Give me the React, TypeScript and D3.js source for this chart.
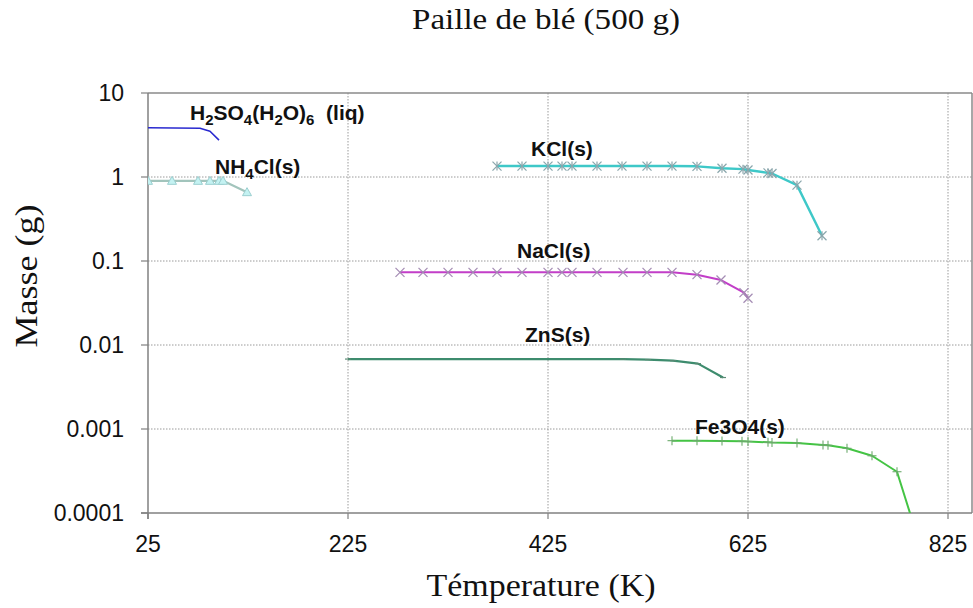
import React from "react";
import * as d3 from "d3";

// ---- data ----
const xTicks = [25, 225, 425, 625, 825];
const yTicks = [0.0001, 0.001, 0.01, 0.1, 1, 10];
const yTickLabels = ["0.0001", "0.001", "0.01", "0.1", "1", "10"];

const h2so4T = [25, 77, 87, 96];
const h2so4V = [3.85, 3.8, 3.5, 2.75];

const nh4clT = [25, 49, 75, 87, 96, 100, 124];
const nh4clV = [0.9, 0.9, 0.9, 0.9, 0.9, 0.9, 0.66];

const kclT = [374, 399, 425, 439, 449, 474, 499, 524, 549, 574, 599, 620, 625, 645, 649, 674, 699];
const kclV = [1.35, 1.35, 1.35, 1.35, 1.35, 1.35, 1.35, 1.35, 1.35, 1.34, 1.27, 1.24, 1.21, 1.12, 1.1, 0.8, 0.2];

const naclT = [277, 300, 325, 350, 374, 399, 425, 439, 449, 474, 500, 524, 549, 574, 598, 621, 625];
const naclV = [0.0733, 0.0733, 0.0733, 0.0733, 0.0733, 0.0733, 0.0733, 0.0733, 0.0733, 0.0733, 0.0733, 0.0733, 0.0733, 0.0687, 0.0594, 0.042, 0.036];

const znsT = [225, 500, 525, 550, 575, 600];
const znsV = [0.0068, 0.0068, 0.0067, 0.0065, 0.006, 0.0041];

const fe3o4T = [549, 574, 599, 619, 625, 645, 649, 674, 700, 705, 724, 749, 774, 799];
const fe3o4V = [0.000726, 0.000726, 0.00072, 0.000715, 0.00071, 0.000694, 0.00069, 0.000682, 0.000645, 0.00064, 0.000589, 0.00048, 0.00031, 0.000035];

const W = 973;
const H = 608;
const M = { left: 148, right: 972, top: 93, bottom: 513 };

type Marker = "none" | "dash" | "tri" | "star" | "x" | "plus";

interface Series {
  name: string;
  T: number[];
  V: number[];
  color: string;
  width: number;
  marker: Marker;
  mStroke: string;
  mFill?: string;
}

const series: Series[] = [
  { name: "h2so4", T: h2so4T, V: h2so4V, color: "#2a2ad0", width: 1.6, marker: "none", mStroke: "#2a2ad0" },
  { name: "nh4cl", T: nh4clT, V: nh4clV, color: "#a2c4bc", width: 2.2, marker: "tri", mStroke: "#9ccfd0", mFill: "#c4f2f2" },
  { name: "kcl", T: kclT, V: kclV, color: "#3ec8c8", width: 2.4, marker: "star", mStroke: "#8aa6ac" },
  { name: "nacl", T: naclT, V: naclV, color: "#c23ec8", width: 2.0, marker: "x", mStroke: "#a48cb4" },
  { name: "zns", T: znsT, V: znsV, color: "#3e8c6e", width: 2.2, marker: "dash", mStroke: "#5a8a74" },
  { name: "fe3o4", T: fe3o4T, V: fe3o4V, color: "#44c444", width: 2.0, marker: "plus", mStroke: "#6caa6c" },
];

function MarkerShape({ m, x, y, stroke, fill }: { m: Marker; x: number; y: number; stroke: string; fill?: string }) {
  const s = 4.5;
  if (m === "tri") {
    return <path d={`M${x},${y - 4.5}L${x + 4.5},${y + 3.5}L${x - 4.5},${y + 3.5}Z`} fill={fill} stroke={stroke} strokeWidth={1} />;
  }
  if (m === "star") {
    return (
      <g stroke={stroke} strokeWidth={1.2}>
        <line x1={x - s} y1={y - s} x2={x + s} y2={y + s} />
        <line x1={x - s} y1={y + s} x2={x + s} y2={y - s} />
        <line x1={x} y1={y - s} x2={x} y2={y + s} />
      </g>
    );
  }
  if (m === "x") {
    return (
      <g stroke={stroke} strokeWidth={1.2}>
        <line x1={x - s} y1={y - s} x2={x + s} y2={y + s} />
        <line x1={x - s} y1={y + s} x2={x + s} y2={y - s} />
      </g>
    );
  }
  if (m === "plus") {
    return (
      <g stroke={stroke} strokeWidth={1.1}>
        <line x1={x - s} y1={y} x2={x + s} y2={y} />
        <line x1={x} y1={y - s} x2={x} y2={y + s} />
      </g>
    );
  }
  if (m === "dash") {
    return <line x1={x - 3} y1={y} x2={x + 3} y2={y} stroke={stroke} strokeWidth={1.2} />;
  }
  return null;
}

export default function App() {
  const x = d3.scaleLinear().domain([25, 849]).range([M.left, M.right]);
  const y = d3.scaleLog().domain([0.0001, 10]).range([M.bottom, M.top]);
  const line = d3
    .line<[number, number]>()
    .x((d) => x(d[0]))
    .y((d) => y(d[1]));

  const sans = "'Liberation Sans', Arial, sans-serif";
  const serif = "'Liberation Serif', 'Times New Roman', serif";
  const labelStyle = { fontFamily: sans, fontWeight: 700 as const, fontSize: 21, fill: "#111" };

  return (
    <svg width={W} height={H} style={{ display: "block", position: "absolute", left: 0, top: 0 }}>
      <rect x={0} y={0} width={W} height={H} fill="#fff" />
      <defs>
        <clipPath id="plot">
          <rect x={M.left} y={M.top} width={M.right - M.left} height={M.bottom - M.top} />
        </clipPath>
      </defs>

      {/* grid */}
      {xTicks.slice(1).map((t) => (
        <line key={"gx" + t} x1={x(t)} x2={x(t)} y1={M.top} y2={M.bottom} stroke="#9a9a9a" strokeWidth={1} strokeDasharray="1.5,1.5" />
      ))}
      {yTicks.slice(1, -1).map((t) => (
        <line key={"gy" + t} x1={M.left} x2={M.right} y1={y(t)} y2={y(t)} stroke="#9a9a9a" strokeWidth={1} strokeDasharray="1.5,1.5" />
      ))}

      {/* frame */}
      <line x1={M.left} x2={M.right} y1={M.top} y2={M.top} stroke="#8a8a8a" strokeWidth={1.5} />
      <line x1={M.right} x2={M.right} y1={M.top} y2={M.bottom} stroke="#8a8a8a" strokeWidth={1.5} />
      <line x1={M.left} x2={M.left} y1={M.top} y2={M.bottom + 6} stroke="#808080" strokeWidth={1.5} />
      <line x1={M.left - 7} x2={M.right} y1={M.bottom} y2={M.bottom} stroke="#808080" strokeWidth={1.5} />

      {/* y ticks */}
      {yTicks.map((t, i) => (
        <g key={"yt" + t}>
          <line x1={M.left - 7} x2={M.left} y1={y(t)} y2={y(t)} stroke="#808080" strokeWidth={1.2} />
          <text x={124} y={y(t) + 8} textAnchor="end" fontFamily={sans} fontSize={23} fill="#111">
            {yTickLabels[i]}
          </text>
        </g>
      ))}
      {/* x ticks */}
      {xTicks.map((t) => (
        <g key={"xt" + t}>
          <line x1={x(t)} x2={x(t)} y1={M.bottom} y2={M.bottom + 6} stroke="#808080" strokeWidth={1.2} />
          <text x={x(t)} y={552} textAnchor="middle" fontFamily={sans} fontSize={23} fill="#111">
            {t}
          </text>
        </g>
      ))}

      {/* series */}
      <g clipPath="url(#plot)">
        {series.map((s) => {
          const pts: [number, number][] = s.T.map((t, i) => [t, s.V[i]]);
          return (
            <g key={s.name}>
              <path d={line(pts) || ""} fill="none" stroke={s.color} strokeWidth={s.width} strokeLinejoin="round" />
              {pts.map((p, i) => (
                <MarkerShape key={i} m={s.marker} x={x(p[0])} y={y(p[1])} stroke={s.mStroke} fill={s.mFill} />
              ))}
            </g>
          );
        })}
      </g>

      {/* series labels */}
      <text x={x(67)} y={y(4.77)} {...labelStyle}>
        H<tspan fontSize={15} dy={5}>2</tspan>
        <tspan dy={-5}>SO</tspan>
        <tspan fontSize={15} dy={5}>4</tspan>
        <tspan dy={-5}>(H</tspan>
        <tspan fontSize={15} dy={5}>2</tspan>
        <tspan dy={-5}>O)</tspan>
        <tspan fontSize={15} dy={5}>6</tspan>
        <tspan dy={-5}>{"\u00a0\u00a0(liq)"}</tspan>
      </text>
      <text x={x(92)} y={y(1.086)} {...labelStyle}>
        NH<tspan fontSize={15} dy={5}>4</tspan>
        <tspan dy={-5}>Cl(s)</tspan>
      </text>
      <text x={x(408)} y={y(1.78)} {...labelStyle}>KCl(s)</text>
      <text x={x(394)} y={y(0.1087)} {...labelStyle}>NaCl(s)</text>
      <text x={x(402)} y={y(0.01094)} {...labelStyle}>ZnS(s)</text>
      <text x={x(572)} y={y(0.00087)} {...labelStyle}>Fe3O4(s)</text>

      {/* titles */}
      <text x={546} y={29} textAnchor="middle" fontFamily={serif} fontSize={29} fill="#111" textLength={268} lengthAdjust="spacingAndGlyphs">
        Paille de blé (500 g)
      </text>
      <text x={541} y={596} textAnchor="middle" fontFamily={serif} fontSize={32} fill="#111" textLength={229} lengthAdjust="spacingAndGlyphs">
        Témperature (K)
      </text>
      <text transform="translate(37,276) rotate(-90)" textAnchor="middle" fontFamily={serif} fontSize={32} fill="#111" textLength={143} lengthAdjust="spacingAndGlyphs">
        Masse (g)
      </text>
    </svg>
  );
}
